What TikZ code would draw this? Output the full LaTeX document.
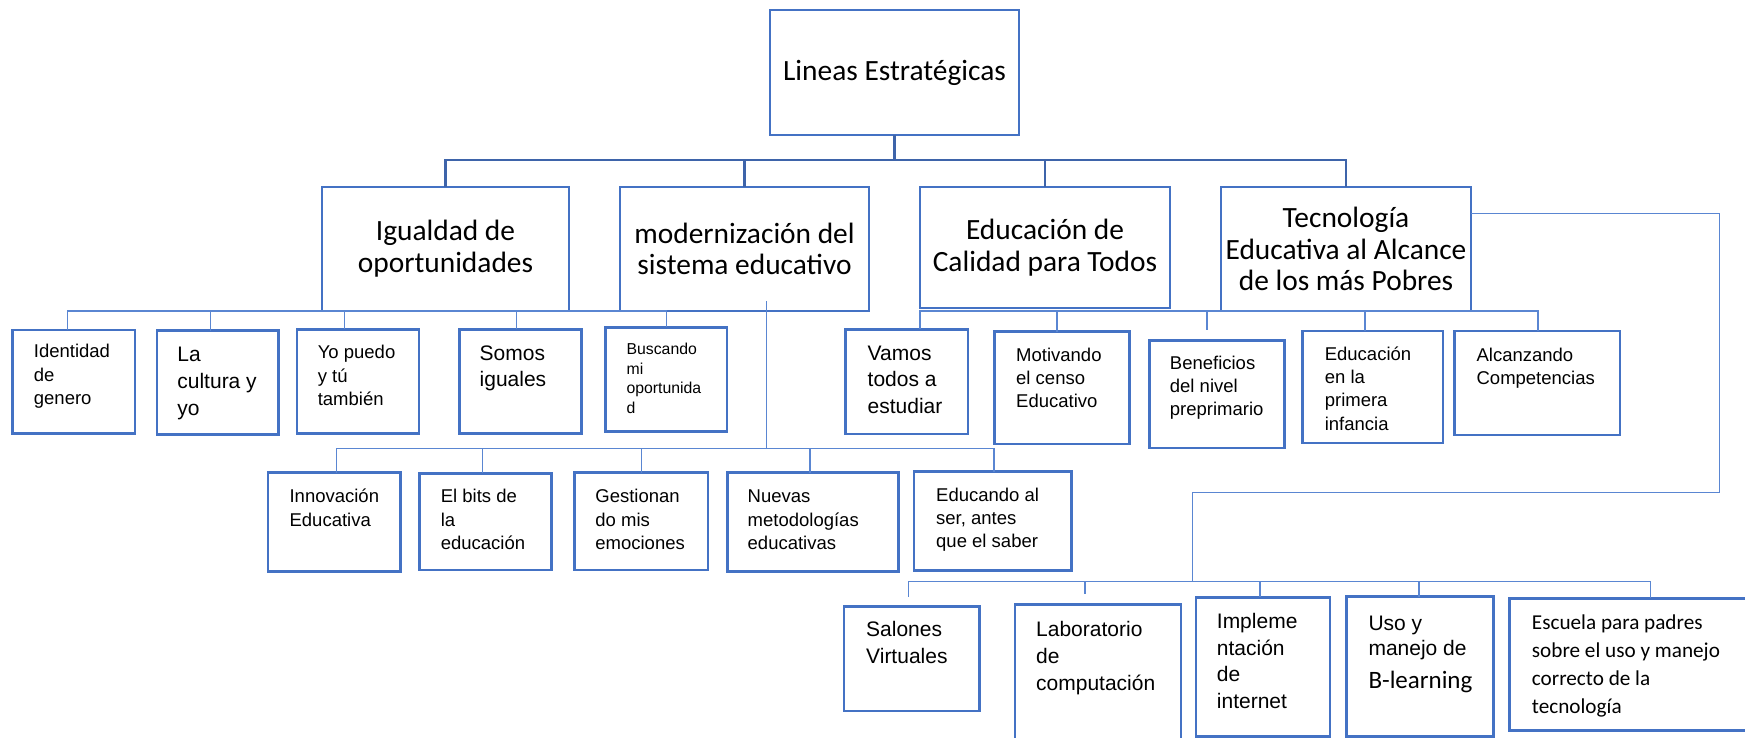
\documentclass[tikz,border=0pt]{standalone}
\usepackage{fontspec}
\newfontfamily\calfont{Carlito}
\newfontfamily\arifont{Liberation Sans}
\definecolor{boxblue}{HTML}{4472C4}
\definecolor{darkline}{HTML}{3E64AA}
\definecolor{thinline}{HTML}{5A86D2}
\begin{document}
\begin{tikzpicture}[x=1pt,y=-1pt,
  bxS/.style={draw=boxblue,line width=2.6pt,inner sep=0pt,outer sep=0pt,anchor=north west},
  bxL/.style={draw=boxblue,line width=2.3pt,inner sep=0pt,outer sep=0pt,anchor=north west},
  txtL/.style={font=\calfont\fontsize{29.4}{31.7}\selectfont,align=center,inner sep=0pt},
  txtS/.style={font=\arifont\fontsize{18.5}{23.3}\selectfont,align=left,inner sep=0pt,anchor=north west},
  txtM/.style={font=\arifont\fontsize{21}{26.7}\selectfont,align=left,inner sep=0pt,anchor=north west},
  txtX/.style={font=\arifont\fontsize{15.8}{19.7}\selectfont,align=left,inner sep=0pt,anchor=north west},
  txtC/.style={font=\calfont\fontsize{21.2}{28}\selectfont,align=left,inner sep=0pt,anchor=north west},
  conA/.style={draw=darkline,line width=2.6pt},
  conB/.style={draw=thinline,line width=1.3pt}
]
\useasboundingbox (0,0) rectangle (1745,738);

% ---------- boxes ----------
\node[bxL,minimum width=249pt,minimum height=125pt] (T) at (770,10) {};
\node[bxL,minimum width=247pt,minimum height=124pt] (La) at (322,187) {};
\node[bxL,minimum width=249pt,minimum height=124pt] (Lb) at (620,187) {};
\node[bxL,minimum width=250pt,minimum height=121pt] (Lc) at (920,187) {};
\node[bxL,minimum width=250pt,minimum height=124pt] (Ld) at (1221,187) {};

\node[bxS,minimum width=122.5pt,minimum height=103.3pt] (b1) at (12.6,330) {};
\node[bxS,minimum width=121.7pt,minimum height=103.6pt] (b2) at (156.9,330.7) {};
\node[bxS,minimum width=122pt,minimum height=104pt] (b3) at (297,329.3) {};
\node[bxS,minimum width=122.5pt,minimum height=104pt] (b4) at (459.2,329.3) {};
\node[bxS,minimum width=121.7pt,minimum height=104.4pt] (b5) at (605.3,327.3) {};

\node[bxS,minimum width=132.4pt,minimum height=99pt] (c1) at (268,472.7) {};
\node[bxS,minimum width=132pt,minimum height=96.7pt] (c2) at (419.2,473.3) {};
\node[bxS,minimum width=133.9pt,minimum height=97.3pt] (c3) at (574.2,472.7) {};
\node[bxS,minimum width=171.1pt,minimum height=99pt] (c4) at (727.2,472.7) {};
\node[bxS,minimum width=157.7pt,minimum height=99pt] (c5) at (914,471.7) {};

\node[bxS,minimum width=122.5pt,minimum height=104.7pt] (d1) at (845.6,329.3) {};
\node[bxS,minimum width=135.1pt,minimum height=112.3pt] (d2) at (994.5,331.7) {};
\node[bxS,minimum width=135.2pt,minimum height=107.3pt] (d3) at (1149.5,340.7) {};
\node[bxS,minimum width=140.3pt,minimum height=112pt] (d4) at (1302.7,331) {};
\node[bxS,minimum width=165.1pt,minimum height=104pt] (d5) at (1454.7,331) {};

\node[bxS,minimum width=135.3pt,minimum height=104.3pt] (e1) at (844,606.7) {};
\node[bxS,minimum width=166pt,minimum height=135pt] (e2) at (1015,604.3) {};
\node[bxS,minimum width=134pt,minimum height=139.2pt] (e3) at (1196,597.3) {};
\node[bxS,minimum width=146.6pt,minimum height=139.8pt] (e4) at (1346.7,596.7) {};
\node[bxS,minimum width=252pt,minimum height=132.4pt] (e5) at (1509.3,598.3) {};

% ---------- texts ----------
\node[txtL] (tT) at (T.center) {Lineas Estratégicas};
\node[txtL] (tLa) at (La.center) {Igualdad de\\oportunidades};
\node[txtL] (tLb) at (Lb.center) {modernización del\\sistema educativo};
\node[txtL] (tLc) at (Lc.center) {Educación de\\Calidad para Todos};
\node[txtL] (tLd) at (Ld.center) {Tecnología\\Educativa al Alcance\\de los más Pobres};

\node[txtS] (tb1) at (33.7,341.3) {\strut Identidad\\de\\genero};
\node[txtM] (tb2) at (177.2,343.1) {\strut La\\cultura y\\yo};
\node[txtS] (tb3) at (317.6,342.3) {\strut Yo puedo\\y tú\\también};
\node[txtM] (tb4) at (479.5,341.4) {\strut Somos\\iguales};
\node[txtX] (tb5) at (626.4,340.6) {\strut Buscando\\mi\\oportunida\\d};

\node[txtS] (tc1) at (289.4,486.3) {\strut Innovación\\Educativa};
\node[txtS] (tc2) at (440.6,486.3) {\strut El bits de\\la\\educación};
\node[txtS] (tc3) at (595.2,486.3) {\strut Gestionan\\do mis\\emociones};
\node[txtS] (tc4) at (747.5,486.3) {\strut Nuevas\\metodologías\\educativas};
\node[txtS] (tc5) at (936,484.6) {\strut Educando al\\ser, antes\\que el saber};

\node[txtM] (td1) at (867.5,341.2) {\strut Vamos\\todos a\\estudiar};
\node[txtS] (td2) at (1016,344.6) {\strut Motivando\\el censo\\Educativo};
\node[txtS] (td3) at (1169.7,352.6) {\strut Beneficios\\del nivel\\preprimario};
\node[txtS] (td4) at (1324.6,343.6) {\strut Educación\\en la\\primera\\infancia};
\node[txtS] (td5) at (1476.4,344.6) {\strut Alcanzando\\Competencias};

\node[txtM] (te1) at (866,618) {\strut Salones\\Virtuales};
\node[txtM] (te2) at (1036,618) {\strut Laboratorio\\de\\computación};
\node[txtM] (te3) at (1216.7,609.7) {\strut Impleme\\ntación\\de\\internet};
\node[font=\arifont\fontsize{21}{25}\selectfont,align=left,inner sep=0pt,anchor=north west] (te4) at (1368.3,612.5)
  {\strut Uso y\\manejo de\\[8pt]{\calfont\fontsize{25}{30}\selectfont B-learning}};
\node[txtC] (te5) at (1531.7,610.1) {\strut Escuela para padres\\sobre el uso y manejo\\correcto de la\\tecnología};

% ---------- top level connectors ----------
\coordinate (bus) at (0,160);
\draw[conA] (T.south) -- (T.south |- bus);
\draw[conA] (La.north) |- (bus -| Ld.north) -- (Ld.north);
\draw[conA] (Lb.north) -- (Lb.north |- bus);
\draw[conA] (Lc.north) -- (Lc.north |- bus);

% ---------- Igualdad children ----------
\coordinate (ya) at (67.4,311);
\coordinate (yb) at (666.5,311);
\coordinate (yc) at (210.5,311);
\coordinate (yd) at (344.4,311);
\coordinate (ye) at (516.6,311);
\draw[conB] (b1.north -| ya) -- (ya) -- (yb) -- (yb |- b5.north);
\draw[conB] (yc) -- (yc |- b2.north);
\draw[conB] (yd) -- (yd |- b3.north);
\draw[conB] (ye) -- (ye |- b4.north);

% ---------- modernizacion children ----------
\coordinate (ma) at (766.4,301);
\coordinate (mb) at (766.4,448.5);
\coordinate (m1) at (336.5,448.5);
\coordinate (m2) at (482.3,448.5);
\coordinate (m3) at (641.5,448.5);
\coordinate (m4) at (809.9,448.5);
\coordinate (m5) at (994,448.5);
\draw[conB] (ma) -- (mb);
\draw[conB] (m1 |- c1.north) -- (m1) -- (m5) -- (m5 |- c5.north);
\draw[conB] (m2) -- (m2 |- c2.north);
\draw[conB] (m3) -- (m3 |- c3.north);
\draw[conB] (m4) -- (m4 |- c4.north);

% ---------- Educacion children ----------
\coordinate (ea) at (920,311);
\coordinate (eb) at (1056.9,311);
\coordinate (ec) at (1207,311);
\coordinate (ec2) at (1207,330);
\coordinate (ed) at (1365,311);
\coordinate (ee) at (1538,311);
\draw[conB] (d1.north -| ea) -- (ea) -- (ee) -- (ee |- d5.north);
\draw[conB] (eb) -- (eb |- d2.north);
\draw[conB] (ec) -- (ec2);
\draw[conB] (ed) -- (ed |- d4.north);

% ---------- Tecnologia children ----------
\coordinate (ra) at (1719.5,213.3);
\coordinate (rb) at (1192.5,492.7);
\coordinate (rc) at (1192.5,581.5);
\draw[conB] (Ld.east |- ra) -- (ra) |- (rb) -- (rc);
\coordinate (f1) at (908.3,581.5);
\coordinate (f1b) at (908.3,596.7);
\coordinate (f2) at (1085,581.5);
\coordinate (f2b) at (1085,594);
\coordinate (f3) at (1260,581.5);
\coordinate (f4) at (1419,581.5);
\coordinate (f5) at (1650.7,581.5);
\draw[conB] (f1b) -- (f1) -- (f5) -- (f5 |- e5.north);
\draw[conB] (f2) -- (f2b);
\draw[conB] (f3) -- (f3 |- e3.north);
\draw[conB] (f4) -- (f4 |- e4.north);
\end{tikzpicture}
\end{document}
